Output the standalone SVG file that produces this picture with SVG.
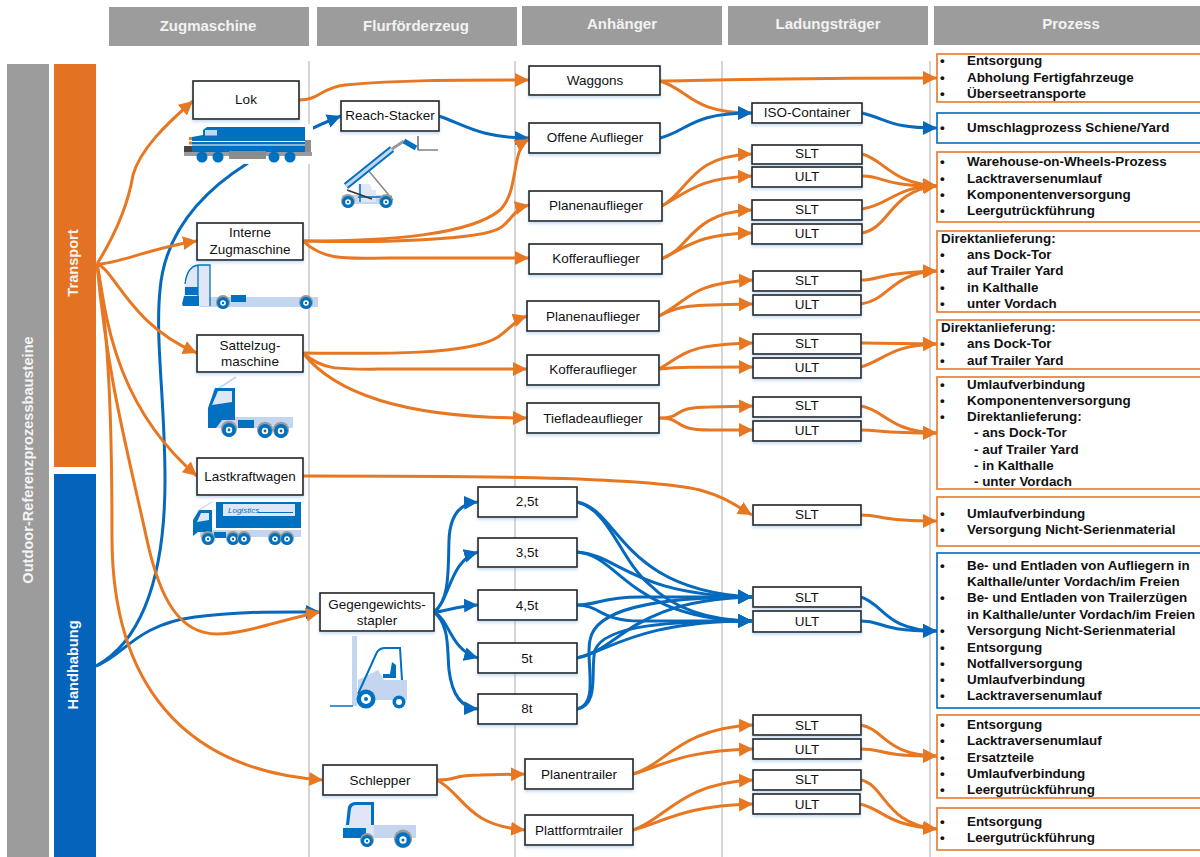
<svg xmlns="http://www.w3.org/2000/svg" width="1200" height="857" viewBox="0 0 1200 857">
<style>
text{font-family:"Liberation Sans",Arial,sans-serif;fill:#111}
.hdr{fill:#9c9c9c}
.ht{font-size:15px;font-weight:bold;fill:#f2f2f2;text-anchor:middle}
.st{font-size:14.600px;font-weight:bold;fill:#f4f4f4;text-anchor:middle}
.grid{stroke:#c8c8c8;stroke-width:1.5;fill:none}
.n{fill:#fff;stroke:#222;stroke-width:1.6;filter:url(#sh)}
.l{font-size:13.500px;text-anchor:middle}
.po{fill:#fff;stroke:#e8772a;stroke-width:1.6}
.pb{fill:#fff;stroke:#0569bd;stroke-width:1.6}
.p{font-size:13.400px;font-weight:bold}
.o{fill:none;stroke:#e87722;stroke-width:3;marker-end:url(#ao)}
.b{fill:none;stroke:#0569bd;stroke-width:3;marker-end:url(#ab)}
.d{fill:#0070c0}.m{fill:#c4d5ef}.f{fill:#dfe7f6}.g{fill:#8c8c8c}
</style>
<defs>
<filter id="sh" x="-10%" y="-15%" width="120%" height="140%"><feDropShadow dx="0" dy="2" stdDeviation="1.5" flood-color="#5b9bd5" flood-opacity=".35"/></filter>
<marker id="ao" markerUnits="userSpaceOnUse" markerWidth="15" markerHeight="15" refX="14" refY="7.500" orient="auto"><path d="M0,0.500L14,7.500L0,14.500z" fill="#e87722"/></marker>
<marker id="ab" markerUnits="userSpaceOnUse" markerWidth="15" markerHeight="15" refX="14" refY="7.500" orient="auto"><path d="M0,0.500L14,7.500L0,14.500z" fill="#0569bd"/></marker>
<g id="w"><circle r="7" cy="-1" fill="#9a9a9a"/><circle r="6" fill="#0070c0"/><circle r="2.800" fill="#fff"/><circle r="1.200" fill="#0070c0"/></g>
</defs>
<g id="headers">
<rect class="hdr" x="109" y="7" width="200" height="39"/><text class="ht" x="208" y="31">Zugmaschine</text>
<rect class="hdr" x="317" y="7" width="200" height="39"/><text class="ht" x="416" y="31">Flurförderzeug</text>
<rect class="hdr" x="522" y="6" width="200" height="39"/><text class="ht" x="622" y="29">Anhänger</text>
<rect class="hdr" x="728" y="6" width="200" height="39"/><text class="ht" x="828" y="29">Ladungsträger</text>
<rect class="hdr" x="934" y="6" width="266" height="39"/><text class="ht" x="1071" y="29">Prozess</text>
</g>
<g id="sidebars">
<rect x="7" y="64" width="42" height="793" fill="#9c9c9c"/>
<text class="st" transform="translate(33,460) rotate(-90)">Outdoor-Referenzprozessbausteine</text>
<rect x="54" y="64" width="42" height="403" fill="#e37222"/>
<text class="st" transform="translate(78,263) rotate(-90)">Transport</text>
<rect x="54" y="474" width="42" height="383" fill="#0563bb"/>
<text class="st" transform="translate(78,665) rotate(-90)">Handhabung</text>
</g>
<g id="grid">
<path class="grid" d="M309,61V857M515,61V857M722,61V857M930,61V857"/>
</g>
<g id="connectors">
<path class="b" d="M96,666C135,645 165,590 165,480C165,400 155,340 160,290C165,230 205,190 248,163C275,147 310,128 341,116"/>
<path class="b" d="M96,666C125,655 135,625 195,617C240,611 280,612 320,612"/>
<path class="o" d="M97,264C115,235 128,205 133,175C140,150 165,125 193,101"/>
<path class="o" d="M97,264C115,265 150,248 197,241"/>
<path class="o" d="M97,264C115,270 130,325 197,353"/>
<path class="o" d="M97,264C105,300 108,400 197,476"/>
<path class="o" d="M97,264C108,380 125,440 147,540C160,600 180,634 217,634C245,634 280,620 320,612"/>
<path class="o" d="M97,264C110,340 112,440 112,540C113,680 180,770 323,780"/>
<path class="o" d="M299,100C320,100 320,88 345,85C400,80 450,80 529,80"/>
<path class="b" d="M439,116C465,125 480,138 529,138"/>
<path class="o" d="M303,241C390,241 470,235 500,210C520,190 510,150 529,139"/>
<path class="o" d="M303,241C380,243 480,240 500,228C510,222 515,208 529,205"/>
<path class="o" d="M303,241C325,262 350,258 390,258L529,258"/>
<path class="o" d="M303,353C380,354 470,355 498,337C510,329 515,320 527,316"/>
<path class="o" d="M303,353C325,372 340,369 400,369L527,369"/>
<path class="o" d="M303,353C340,400 420,418 527,418"/>
<path class="o" d="M303,476C450,476 640,476 700,490C725,497 735,505 752,515"/>
<path class="b" d="M434,612C450,600 448,570 449,540C450,515 460,503 478,502"/>
<path class="b" d="M434,612C450,600 450,560 478,552"/>
<path class="b" d="M434,612C445,612 455,606 478,605"/>
<path class="b" d="M434,612C450,620 450,650 478,658"/>
<path class="b" d="M434,612C450,625 447,650 449,670C452,695 462,708 478,709"/>
<path class="b" d="M577,502C620,510 620,590 752,597"/>
<path class="b" d="M577,502C610,510 620,560 650,585C670,605 700,620 752,621"/>
<path class="b" d="M577,552C620,555 630,595 752,597"/>
<path class="b" d="M577,552C620,555 630,620 752,621"/>
<path class="b" d="M577,605C600,605 600,597 640,597L752,597"/>
<path class="b" d="M577,605C600,605 600,621 640,621L752,621"/>
<path class="b" d="M577,658C620,650 630,600 752,597"/>
<path class="b" d="M577,658C610,650 640,621 752,621"/>
<path class="b" d="M577,709C600,705 585,660 590,640C595,610 650,597 752,597"/>
<path class="b" d="M577,709C600,705 590,670 595,650C605,625 670,621 752,621"/>
<path class="o" d="M437,780C460,780 450,775 480,775L525,774"/>
<path class="o" d="M437,780C465,795 465,825 525,830"/>
<path class="o" d="M660,81C720,80 800,78 937,78"/>
<path class="o" d="M660,81C690,90 690,113 752,113"/>
<path class="b" d="M660,138C690,130 690,113 752,113"/>
<path class="b" d="M862,113C890,120 890,128 937,128"/>
<path class="o" d="M662,206C690,190 690,156 752,154"/>
<path class="o" d="M662,206C690,190 700,178 752,176"/>
<path class="o" d="M661,259C690,250 690,212 752,210"/>
<path class="o" d="M661,259C690,245 700,234 752,233"/>
<path class="o" d="M659,316C690,300 690,283 753,280"/>
<path class="o" d="M659,316C680,305 690,305 753,304"/>
<path class="o" d="M659,369C690,350 690,345 753,343"/>
<path class="o" d="M659,369C680,367 690,367 753,367"/>
<path class="o" d="M659,418C685,418 670,407 710,407L753,406"/>
<path class="o" d="M659,418C685,418 670,430 710,430L753,430"/>
<path class="o" d="M862,154C885,160 890,183 937,186"/>
<path class="o" d="M862,176C885,176 880,186 937,186"/>
<path class="o" d="M862,209C890,205 895,186 937,186"/>
<path class="o" d="M862,233C890,228 890,190 937,186"/>
<path class="o" d="M861,280C880,280 880,272 937,271"/>
<path class="o" d="M861,304C890,300 890,273 937,271"/>
<path class="o" d="M861,343L937,344"/>
<path class="o" d="M861,367C885,360 890,345 937,344"/>
<path class="o" d="M861,406C885,410 890,432 937,433"/>
<path class="o" d="M861,430C880,430 880,433 937,433"/>
<path class="o" d="M861,515C885,515 875,521 937,521"/>
<path class="b" d="M861,597C885,605 885,630 937,631"/>
<path class="b" d="M861,621C885,621 875,631 937,631"/>
<path class="o" d="M861,725C885,730 885,755 937,756"/>
<path class="o" d="M861,749C885,749 875,756 937,756"/>
<path class="o" d="M861,780C885,785 885,825 937,829"/>
<path class="o" d="M860,804C885,810 885,825 937,829"/>
<path class="o" d="M633,774C665,765 680,728 753,725"/>
<path class="o" d="M633,774C665,765 680,751 753,749"/>
<path class="o" d="M633,830C665,820 680,783 753,780"/>
<path class="o" d="M633,830C665,822 680,806 753,804"/>
</g>
<g id="icon-lok">
<rect x="180" y="124" width="133" height="40" fill="#fff"/>
<path class="g" d="M305,140h6v12h-6z"/>
<path class="d" d="M203,130L207,127H305V152H192V137L203,135z"/>
<path d="M192,141.500H305M192,145H305" stroke="#fff" stroke-width="1.200"/>
<rect x="205" y="130" width="12" height="5.500" fill="#c4d5ef"/>
<path d="M190.500,137V150" stroke="#e87722" stroke-width="3" stroke-dasharray="3 1.500"/>
<rect x="184" y="146" width="8" height="6" fill="#444"/>
<rect x="184" y="152" width="128" height="4" fill="#9a9a9a"/>
<rect x="229" y="151" width="37" height="8" class="g"/>
<circle cx="202" cy="157" r="5.500" class="d"/><circle cx="218" cy="157" r="5.500" class="d"/><circle cx="274" cy="157" r="5.500" class="d"/><circle cx="290" cy="157" r="5.500" class="d"/>
</g>
<g id="icon-reach">
<rect x="342" y="195" width="50" height="9" class="m"/>
<path d="M368,170L393,200" stroke="#888" stroke-width="1.500"/>
<path class="f" d="M358,184h12l2,6h4v12h-18z"/>
<path d="M360,184v18M358,197H392" stroke="#0070c0" stroke-width="1.500" fill="none"/>
<path d="M346,186L392,149" stroke="#0070c0" stroke-width="7"/>
<path d="M346,186L392,149" stroke="#c4d5ef" stroke-width="3"/>
<path d="M392,149L404,141" stroke="#999" stroke-width="3"/>
<path d="M404,141L416,148" stroke="#0070c0" stroke-width="5"/>
<path d="M418,136V150H438" stroke="#444" stroke-width="1.200" fill="none"/>
<path d="M347,190L372,199" stroke="#333" stroke-width="1.500"/>
<use href="#w" x="348" y="202"/><use href="#w" x="386" y="202"/>
</g>
<g id="icon-interne">
<rect x="200" y="297" width="118" height="10" class="m"/>
<path class="f" d="M184,296L185,282Q187,266 199,265H210V306H198V296z"/>
<path d="M185,284Q187,266 199,265H210V306M198,265V306" fill="none" stroke="#0070c0" stroke-width="1.300"/>
<path class="d" d="M185,287H198V295H185zM182,304L184,296H199V306H183z"/>
<rect x="231" y="295" width="15" height="7" class="d"/>
<use href="#w" x="223" y="303"/><use href="#w" x="306" y="303"/>
</g>
<g id="icon-sattel">
<path d="M213,392L236,377" stroke="#c4d5ef" stroke-width="2"/>
<rect x="208" y="417" width="85" height="11" class="m"/>
<path class="d" d="M208,428V408L215,388H235V420H222L216,428z"/>
<path class="f" d="M212,405L218,391H232V402z"/>
<rect x="238" y="420" width="16" height="8" class="d"/>
<use href="#w" transform="translate(229,430) scale(1.150)"/><use href="#w" transform="translate(265,431) scale(1.150)"/><use href="#w" transform="translate(281,431) scale(1.150)"/>
</g>
<g id="icon-lkw">
<rect x="216" y="502" width="85" height="26" class="d"/>
<rect x="223" y="504" width="72" height="12" class="f"/>
<text x="228" y="513" font-size="8" font-style="italic" style="fill:#0070c0">Logistics</text>
<path d="M258,512.500H293" stroke="#0070c0"/>
<rect x="200" y="530" width="101" height="7" class="m"/>
<path class="d" d="M193,536V520L199,510H212V532H198z"/>
<path class="f" d="M197,522L201,513H209V520z"/>
<path d="M199,510L212,502" stroke="#c4d5ef" stroke-width="1.200"/>
<rect x="214" y="532" width="12" height="6" class="d"/>
<use href="#w" x="208" y="539"/><use href="#w" x="233" y="539"/><use href="#w" x="244" y="539"/><use href="#w" x="275" y="539"/><use href="#w" x="287" y="539"/>
</g>
<g id="icon-stapler">
<rect x="352" y="636" width="5" height="70" class="m"/>
<path d="M330,706H353" stroke="#0070c0" stroke-width="1.500"/>
<path class="m" d="M358,680L378,670L384,680H407V700H358z"/>
<path d="M358,694L377,652Q380,648 385,648H400L402,680" fill="none" stroke="#0070c0" stroke-width="2"/>
<path class="d" d="M383,678H396V665L392,662L390,674H383z"/>
<circle cx="366" cy="699" r="9.500" class="d"/><circle cx="366" cy="699" r="5" fill="#fff"/><circle cx="366" cy="699" r="2" class="d"/>
<circle cx="399" cy="702" r="6.500" class="d"/><circle cx="399" cy="702" r="3" fill="#fff"/>
</g>
<g id="icon-schlepper">
<rect x="345" y="825" width="71" height="13" class="m"/>
<path class="f" d="M345,830L347,808Q349,802 356,802H374V838H345z"/>
<path class="d" d="M343,828H366V838H343zM346,825L348,807Q350,802 356,802H374V825H371V805H356Q352,805 351,809L349,825z"/>
<use href="#w" x="367" y="841"/><use href="#w" transform="translate(403,840) scale(1.300)"/>
</g>
<g id="n-lok"><rect class="n" x="193" y="81" width="106" height="38"/><text class="l" x="246" y="104">Lok</text></g>
<g id="n-reach"><rect class="n" x="341" y="101" width="98" height="30"/><text class="l" x="390" y="120">Reach-Stacker</text></g>
<g id="n-interne"><rect class="n" x="197" y="223" width="106" height="37"/><text class="l" x="250" y="237">Interne</text><text class="l" x="250" y="254">Zugmaschine</text></g>
<g id="n-sattel"><rect class="n" x="197" y="335" width="106" height="37"/><text class="l" x="250" y="350">Sattelzug-</text><text class="l" x="250" y="366">maschine</text></g>
<g id="n-lkw"><rect class="n" x="197" y="458" width="106" height="37"/><text class="l" x="250" y="481">Lastkraftwagen</text></g>
<g id="n-stapler"><rect class="n" x="320" y="593" width="114" height="38"/><text class="l" x="377" y="609">Gegengewichts-</text><text class="l" x="377" y="625">stapler</text></g>
<g id="n-schlepper"><rect class="n" x="323" y="765" width="114" height="30"/><text class="l" x="380" y="785">Schlepper</text></g>
<g id="n-waggons"><rect class="n" x="529" y="66" width="131" height="29"/><text class="l" x="595" y="85">Waggons</text></g>
<g id="n-offene"><rect class="n" x="529" y="123" width="131" height="30"/><text class="l" x="595" y="142">Offene Auflieger</text></g>
<g id="n-planen1"><rect class="n" x="529" y="191" width="133" height="30"/><text class="l" x="596" y="210">Planenauflieger</text></g>
<g id="n-koffer1"><rect class="n" x="529" y="244" width="133" height="30"/><text class="l" x="596" y="263">Kofferauflieger</text></g>
<g id="n-planen2"><rect class="n" x="527" y="301" width="132" height="30"/><text class="l" x="593" y="321">Planenauflieger</text></g>
<g id="n-koffer2"><rect class="n" x="527" y="355" width="132" height="30"/><text class="l" x="593" y="374">Kofferauflieger</text></g>
<g id="n-tief"><rect class="n" x="527" y="403" width="132" height="30"/><text class="l" x="593" y="423">Tiefladeauflieger</text></g>
<g id="n-t25"><rect class="n" x="478" y="487" width="99" height="30"/><text class="l" x="527" y="506">2,5t</text></g>
<g id="n-t35"><rect class="n" x="478" y="538" width="99" height="29"/><text class="l" x="527" y="557">3,5t</text></g>
<g id="n-t45"><rect class="n" x="478" y="590" width="99" height="30"/><text class="l" x="527" y="610">4,5t</text></g>
<g id="n-t5"><rect class="n" x="478" y="643" width="99" height="30"/><text class="l" x="527" y="663">5t</text></g>
<g id="n-t8"><rect class="n" x="478" y="694" width="99" height="30"/><text class="l" x="527" y="713">8t</text></g>
<g id="n-pt"><rect class="n" x="525" y="759" width="108" height="30"/><text class="l" x="579" y="779">Planentrailer</text></g>
<g id="n-pf"><rect class="n" x="525" y="815" width="108" height="30"/><text class="l" x="579" y="835">Plattformtrailer</text></g>
<g id="n-iso"><rect class="n" x="752" y="103" width="110" height="20"/><text class="l" x="807" y="117">ISO-Container</text></g>
<g id="n-slt1"><rect class="n" x="752" y="145" width="110" height="19"/><text class="l" x="807" y="158">SLT</text></g>
<g id="n-ult1"><rect class="n" x="752" y="167" width="110" height="20"/><text class="l" x="807" y="181">ULT</text></g>
<g id="n-slt2"><rect class="n" x="752" y="200" width="110" height="20"/><text class="l" x="807" y="214">SLT</text></g>
<g id="n-ult2"><rect class="n" x="752" y="224" width="110" height="20"/><text class="l" x="807" y="238">ULT</text></g>
<g id="n-slt3"><rect class="n" x="753" y="271" width="108" height="20"/><text class="l" x="807" y="285">SLT</text></g>
<g id="n-ult3"><rect class="n" x="753" y="295" width="108" height="20"/><text class="l" x="807" y="309">ULT</text></g>
<g id="n-slt4"><rect class="n" x="753" y="334" width="108" height="20"/><text class="l" x="807" y="348">SLT</text></g>
<g id="n-ult4"><rect class="n" x="753" y="358" width="108" height="20"/><text class="l" x="807" y="372">ULT</text></g>
<g id="n-slt5"><rect class="n" x="753" y="397" width="108" height="20"/><text class="l" x="807" y="410">SLT</text></g>
<g id="n-ult5"><rect class="n" x="753" y="421" width="108" height="20"/><text class="l" x="807" y="435">ULT</text></g>
<g id="n-slt6"><rect class="n" x="753" y="505" width="108" height="20"/><text class="l" x="807" y="519">SLT</text></g>
<g id="n-slt7"><rect class="n" x="753" y="587" width="108" height="20"/><text class="l" x="807" y="602">SLT</text></g>
<g id="n-ult7"><rect class="n" x="753" y="611" width="108" height="21"/><text class="l" x="807" y="626">ULT</text></g>
<g id="n-slt8"><rect class="n" x="753" y="715" width="108" height="20"/><text class="l" x="807" y="730">SLT</text></g>
<g id="n-ult8"><rect class="n" x="753" y="739" width="108" height="20"/><text class="l" x="807" y="754">ULT</text></g>
<g id="n-slt9"><rect class="n" x="753" y="770" width="108" height="20"/><text class="l" x="807" y="784">SLT</text></g>
<g id="n-ult9"><rect class="n" x="753" y="794" width="107" height="20"/><text class="l" x="807" y="809">ULT</text></g>
<g id="p1"><rect class="po" x="937" y="54" width="270" height="48"/><text class="p" x="940" y="65">•</text><text class="p" x="967" y="65">Entsorgung</text><text class="p" x="940" y="82">•</text><text class="p" x="967" y="82">Abholung Fertigfahrzeuge</text><text class="p" x="940" y="98">•</text><text class="p" x="967" y="98">Überseetransporte</text></g>
<g id="p2"><rect class="pb" x="937" y="113" width="270" height="30"/><text class="p" x="940" y="132">•</text><text class="p" x="967" y="132">Umschlagprozess Schiene/Yard</text></g>
<g id="p3"><rect class="po" x="937" y="152" width="270" height="70"/><text class="p" x="940" y="166">•</text><text class="p" x="967" y="166">Warehouse-on-Wheels-Prozess</text><text class="p" x="940" y="183">•</text><text class="p" x="967" y="183">Lacktraversenumlauf</text><text class="p" x="940" y="199">•</text><text class="p" x="967" y="199">Komponentenversorgung</text><text class="p" x="940" y="215">•</text><text class="p" x="967" y="215">Leergutrückführung</text></g>
<g id="p4"><rect class="po" x="937" y="231" width="270" height="81"/><text class="p" x="941" y="243">Direktanlieferung:</text><text class="p" x="940" y="259">•</text><text class="p" x="967" y="259">ans Dock-Tor</text><text class="p" x="940" y="275">•</text><text class="p" x="967" y="275">auf Trailer Yard</text><text class="p" x="940" y="292">•</text><text class="p" x="967" y="292">in Kalthalle</text><text class="p" x="940" y="308">•</text><text class="p" x="967" y="308">unter Vordach</text></g>
<g id="p5"><rect class="po" x="937" y="320" width="270" height="49"/><text class="p" x="941" y="332">Direktanlieferung:</text><text class="p" x="940" y="348">•</text><text class="p" x="967" y="348">ans Dock-Tor</text><text class="p" x="940" y="365">•</text><text class="p" x="967" y="365">auf Trailer Yard</text></g>
<g id="p6"><rect class="po" x="937" y="377" width="270" height="112"/><text class="p" x="940" y="389">•</text><text class="p" x="967" y="389">Umlaufverbindung</text><text class="p" x="940" y="405">•</text><text class="p" x="967" y="405">Komponentenversorgung</text><text class="p" x="940" y="421">•</text><text class="p" x="967" y="421">Direktanlieferung:</text><text class="p" x="974" y="437">- ans Dock-Tor</text><text class="p" x="974" y="454">- auf Trailer Yard</text><text class="p" x="974" y="470">- in Kalthalle</text><text class="p" x="974" y="486">- unter Vordach</text></g>
<g id="p7"><rect class="po" x="937" y="497" width="270" height="49"/><text class="p" x="940" y="518">•</text><text class="p" x="967" y="518">Umlaufverbindung</text><text class="p" x="940" y="534">•</text><text class="p" x="967" y="534">Versorgung Nicht-Serienmaterial</text></g>
<g id="p8"><rect class="pb" x="937" y="553" width="270" height="155"/><text class="p" x="940" y="570">•</text><text class="p" x="967" y="570">Be- und Entladen von Aufliegern in</text><text class="p" x="967" y="586">Kalthalle/unter Vordach/im Freien</text><text class="p" x="940" y="602">•</text><text class="p" x="967" y="602">Be- und Entladen von Trailerzügen</text><text class="p" x="967" y="619">in Kalthalle/unter Vordach/im Freien</text><text class="p" x="940" y="635">•</text><text class="p" x="967" y="635">Versorgung Nicht-Serienmaterial</text><text class="p" x="940" y="652">•</text><text class="p" x="967" y="652">Entsorgung</text><text class="p" x="940" y="668">•</text><text class="p" x="967" y="668">Notfallversorgung</text><text class="p" x="940" y="684">•</text><text class="p" x="967" y="684">Umlaufverbindung</text><text class="p" x="940" y="700">•</text><text class="p" x="967" y="700">Lacktraversenumlauf</text></g>
<g id="p9"><rect class="po" x="937" y="715" width="270" height="83"/><text class="p" x="940" y="729">•</text><text class="p" x="967" y="729">Entsorgung</text><text class="p" x="940" y="745">•</text><text class="p" x="967" y="745">Lacktraversenumlauf</text><text class="p" x="940" y="762">•</text><text class="p" x="967" y="762">Ersatzteile</text><text class="p" x="940" y="778">•</text><text class="p" x="967" y="778">Umlaufverbindung</text><text class="p" x="940" y="794">•</text><text class="p" x="967" y="794">Leergutrückführung</text></g>
<g id="p10"><rect class="po" x="937" y="808" width="270" height="42"/><text class="p" x="940" y="826">•</text><text class="p" x="967" y="826">Entsorgung</text><text class="p" x="940" y="842">•</text><text class="p" x="967" y="842">Leergutrückführung</text></g>
</svg>
